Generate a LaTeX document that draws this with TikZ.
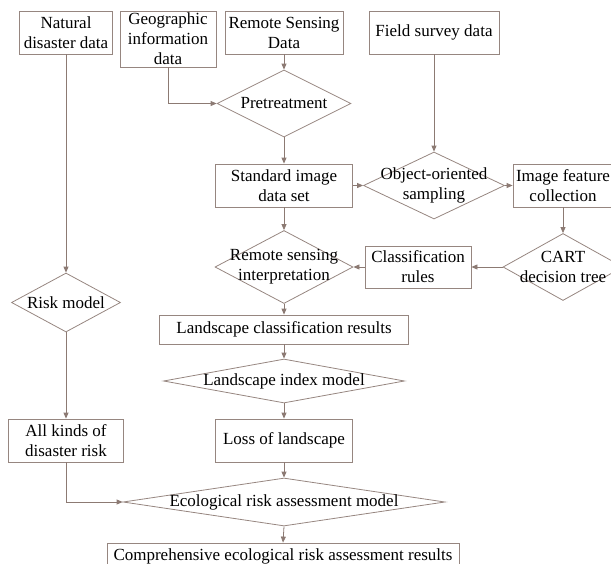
\documentclass[tikz,border=0pt]{standalone}
\usepackage{fontspec}
\setmainfont{Liberation Serif}
\usetikzlibrary{arrows.meta,shapes.geometric}
\definecolor{linebrown}{RGB}{150,134,128}
\definecolor{arrowbrown}{RGB}{140,122,115}

\begin{document}
\begin{tikzpicture}[x=1pt,y=-1pt,line width=0.8pt,
  font=\fontsize{17}{20}\selectfont,
  box/.style={draw=linebrown,rectangle,inner sep=0pt,align=center},
  dia/.style={draw=linebrown,diamond,inner sep=0pt},
  txt/.style={align=center,inner sep=0pt,font=\fontsize{17}{20}\selectfont},
  arr/.style={draw=arrowbrown,-{Triangle[length=6pt,width=5pt]}}]
  \useasboundingbox (0,0) rectangle (611,563);
  \clip (0,0) rectangle (611,563);
  % input data (top row)
  \node[box,minimum width=93,minimum height=43] (nat) at (66,32.5) {Natural\\disaster data};
  \node[box,minimum width=96,minimum height=56] (geo) at (168,39) {Geographic\\information\\data};
  \node[box,minimum width=118,minimum height=43] (rsd) at (284,32.5) {Remote Sensing\\Data};
  \node[box,minimum width=130,minimum height=43] (fsd) at (434,32.5) {Field survey data};
  % image processing
  \node[dia,minimum width=134,minimum height=67,label={[txt]center:Pretreatment}] (pre) at (284,103.5) {};
  \node[box,minimum width=137,minimum height=43] (sid) at (284,185.5) {Standard image\\data set};
  \node[dia,minimum width=141,minimum height=67,label={[txt]center:Object-oriented\\sampling}] (oos) at (434,185.5) {};
  \node[box,minimum width=100,minimum height=43] (ifc) at (563,185.5) {Image feature\\collection};
  \node[dia,minimum width=120,minimum height=67,label={[txt]center:CART\\decision tree}] (cart) at (563,267) {};
  \node[box,minimum width=106,minimum height=42] (clr) at (418,267) {Classification\\rules};
  \node[dia,minimum width=138,minimum height=73,label={[txt]center:Remote sensing\\interpretation}] (rsi) at (284,267) {};
  % landscape branch
  \node[box,minimum width=249,minimum height=29] (lcr) at (284,329.5) {Landscape classification results};
  \node[dia,minimum width=241,minimum height=44,label={[txt]center:Landscape index model}] (lim) at (284,381) {};
  \node[box,minimum width=137,minimum height=43] (loss) at (284,440.5) {Loss of landscape};
  % disaster branch
  \node[dia,minimum width=109,minimum height=59,label={[txt]center:Risk model}] (risk) at (66,302.5) {};
  \node[box,minimum width=115,minimum height=43] (akd) at (66,440.5) {All kinds of\\disaster risk};
  % assessment
  \node[dia,minimum width=322,minimum height=48,label={[txt]center:Ecological risk assessment model}] (eram) at (284,502) {};
  \node[box,minimum width=352,minimum height=26] (cer) at (283,556) {Comprehensive ecological risk assessment results};
  % connectors
  \draw[arr] (geo.south) |- (pre.west);
  \draw[arr] (rsd.south) -- (pre.north);
  \draw[arr] (pre.south) -- (sid.north);
  \draw[arr] (fsd.south) -- (oos.north);
  \draw[arr] (sid.east) -- (oos.west);
  \draw[arr] (oos.east) -- (ifc.west);
  \draw[arr] (ifc.south) -- (cart.north);
  \draw[arr] (cart.west) -- (clr.east);
  \draw[arr] (clr.west) -- (rsi.east);
  \draw[arr] (sid.south) -- (rsi.north);
  \draw[arr] (rsi.south) -- (lcr.north);
  \draw[arr] (lcr.south) -- (lim.north);
  \draw[arr] (lim.south) -- (loss.north);
  \draw[arr] (nat.south) -- (risk.north);
  \draw[arr] (risk.south) -- (akd.north);
  \draw[arr] (akd.south) |- (eram.west);
  \draw[arr] (loss.south) -- (eram.north);
  \draw[arr] (eram.south) -- (cer.north);
\end{tikzpicture}
\end{document}
